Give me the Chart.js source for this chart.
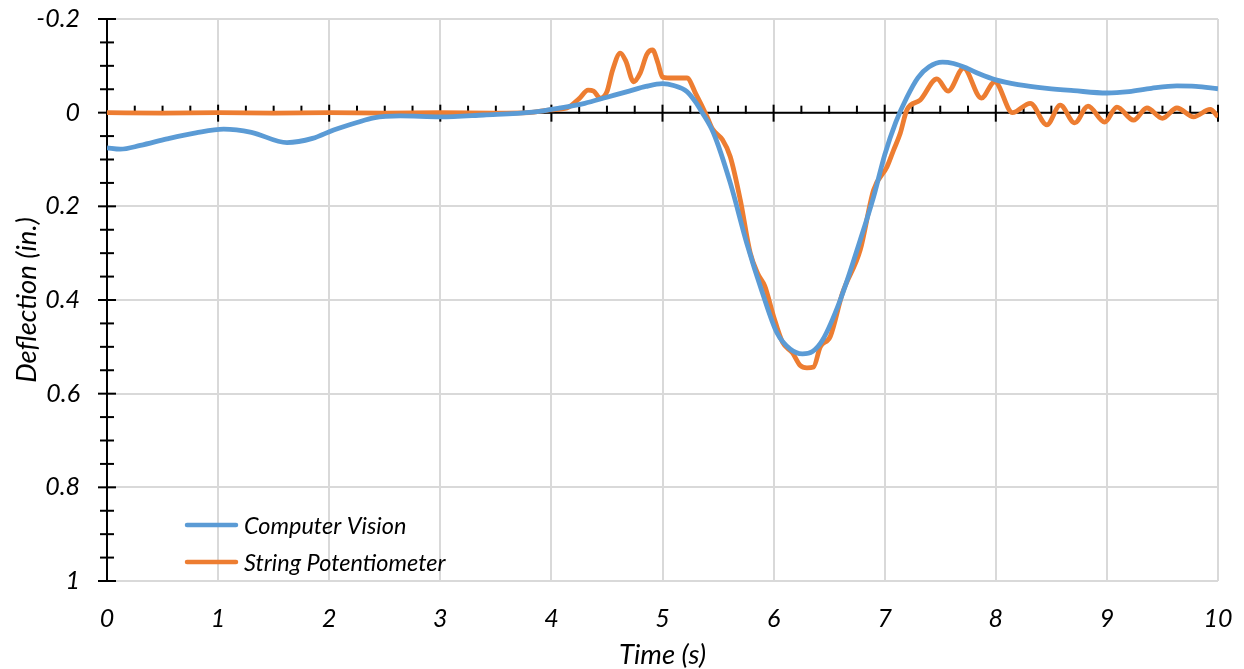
<!DOCTYPE html>
<html>
<head>
<meta charset="utf-8">
<script src="https://cdn.jsdelivr.net/npm/chart.js@4.4.1/dist/chart.umd.min.js"></script>
<style>
  html, body { margin: 0; padding: 0; background: #ffffff; }
  #wrap { width: 1244px; height: 669px; position: relative; }
</style>
</head>
<body>
<div id="wrap"><canvas id="c" width="1244" height="669"></canvas></div>
<script>
// ---- Data ----
const seriesNames = ["Computer Vision", "String Potentiometer"];

const cvTime = [0, 0.12, 0.3, 0.54, 0.8, 1.05, 1.3, 1.62, 1.85, 2.04, 2.25, 2.4, 2.64, 3.0, 3.39, 3.83, 4.08, 4.3, 4.5, 4.7, 4.85, 5.0, 5.1, 5.22, 5.3, 5.35, 5.46, 5.61, 5.76, 5.9, 6.03, 6.15, 6.26, 6.35, 6.44, 6.6, 6.78, 6.9, 7.0, 7.1, 7.2, 7.3, 7.4, 7.52, 7.62, 7.74, 7.85, 8.0, 8.2, 8.46, 8.7, 9.0, 9.2, 9.4, 9.63, 9.8, 10];
const cvDefl = [0.075, 0.078, 0.07, 0.056, 0.043, 0.035, 0.042, 0.064, 0.055, 0.037, 0.021, 0.011, 0.007, 0.009, 0.005, -0.001, -0.01, -0.02, -0.033, -0.046, -0.056, -0.062, -0.058, -0.045, -0.022, -0.003, 0.044, 0.15, 0.28, 0.385, 0.47, 0.505, 0.515, 0.51, 0.486, 0.40, 0.272, 0.18, 0.09, 0.02, -0.033, -0.075, -0.098, -0.108, -0.105, -0.095, -0.083, -0.07, -0.06, -0.052, -0.047, -0.042, -0.045, -0.052, -0.057, -0.056, -0.051];

const spTime = [0, 0.5, 1.0, 1.5, 2.0, 2.5, 3.0, 3.5, 3.8, 3.99, 4.14, 4.25, 4.33, 4.38, 4.44, 4.5, 4.55, 4.62, 4.67, 4.74, 4.8, 4.86, 4.91, 4.96, 5.0, 5.1, 5.22, 5.3, 5.4, 5.45, 5.54, 5.61, 5.7, 5.79, 5.86, 5.92, 6.0, 6.08, 6.17, 6.24, 6.3, 6.36, 6.42, 6.51, 6.62, 6.78, 6.9, 7.02, 7.08, 7.14, 7.2, 7.32, 7.47, 7.57, 7.71, 7.87, 7.99, 8.15, 8.31, 8.46, 8.58, 8.71, 8.83, 8.98, 9.09, 9.24, 9.36, 9.5, 9.63, 9.78, 9.93, 10];
const spDefl = [0, 0.001, 0, 0.001, 0, 0.001, 0, 0.001, 0, -0.006, -0.01, -0.03, -0.048, -0.046, -0.031, -0.045, -0.09, -0.127, -0.11, -0.066, -0.085, -0.125, -0.134, -0.105, -0.076, -0.074, -0.074, -0.04, 0.008, 0.035, 0.058, 0.094, 0.186, 0.30, 0.345, 0.37, 0.435, 0.49, 0.513, 0.54, 0.545, 0.543, 0.50, 0.478, 0.385, 0.293, 0.165, 0.116, 0.08, 0.044, -0.006, -0.027, -0.072, -0.046, -0.095, -0.031, -0.066, 0, -0.02, 0.026, -0.016, 0.022, -0.014, 0.02, -0.012, 0.016, -0.01, 0.012, -0.01, 0.009, -0.007, 0.009];

const xTickValues = [0, 1, 2, 3, 4, 5, 6, 7, 8, 9, 10];
const yTickValues = [-0.2, 0, 0.2, 0.4, 0.6, 0.8, 1];

const colors = ["#5B9BD5", "#ED7D31"];
const FONT = "Lato, 'Open Sans', sans-serif";

function toPoints(xs, ys) { return xs.map((x, i) => ({ x: x, y: ys[i] })); }

// Axis decoration through zero (Excel style), drawn from the scales
const axisPlugin = {
  id: 'excelAxes',
  beforeDatasetsDraw(chart) {
    const { ctx, chartArea, scales } = chart;
    const xs = scales.x, ys = scales.y;
    const y0 = ys.getPixelForValue(0);
    const x0 = xs.getPixelForValue(0);
    ctx.save();
    ctx.strokeStyle = '#000000';
    ctx.lineWidth = 2;
    ctx.lineCap = 'butt';
    ctx.beginPath();
    ctx.moveTo(x0, chartArea.top - 1);
    ctx.lineTo(x0, chartArea.bottom + 1);
    ctx.stroke();
    for (let k = 0; k <= 24; k++) {
      const v = -0.2 + k * 0.05;
      const py = ys.getPixelForValue(v);
      const major = (k % 4 === 0);
      const h = major ? 9 : 7;
      ctx.beginPath();
      ctx.moveTo(x0 - h, py);
      ctx.lineTo(x0 + h, py);
      ctx.stroke();
    }
    const xEnd = xs.getPixelForValue(10);
    ctx.beginPath();
    ctx.moveTo(x0, y0);
    ctx.lineTo(xEnd + 1, y0);
    ctx.stroke();
    for (let k = 1; k <= 40; k++) {
      const v = k * 0.25;
      const px = xs.getPixelForValue(v);
      ctx.beginPath();
      if (k % 4 === 0) {
        ctx.moveTo(px, y0 - 8);
        ctx.lineTo(px, y0 + 9);
      } else {
        ctx.moveTo(px, y0 - 7);
        ctx.lineTo(px, y0 + 1);
      }
      ctx.stroke();
    }
    ctx.restore();
  },
  afterDraw(chart) {
    const { ctx } = chart;
    const ds = chart.data.datasets;
    const rows = [525, 562];
    ctx.save();
    ds.forEach((d, i) => {
      ctx.strokeStyle = d.borderColor;
      ctx.lineWidth = 4.5;
      ctx.lineCap = 'round';
      ctx.beginPath();
      ctx.moveTo(187, rows[i]);
      ctx.lineTo(236, rows[i]);
      ctx.stroke();
      ctx.fillStyle = '#000000';
      ctx.font = "italic 23.5px " + FONT;
      ctx.textBaseline = 'middle';
      ctx.textAlign = 'left';
      ctx.fillText(d.label, 244, rows[i] + 1);
    });
    ctx.restore();
  }
};

new Chart(document.getElementById('c'), {
  type: 'line',
  data: {
    datasets: [
      {
        label: seriesNames[0],
        data: toPoints(cvTime, cvDefl),
        borderColor: colors[0],
        backgroundColor: colors[0],
        borderWidth: 4.8,
        pointRadius: 0,
        cubicInterpolationMode: 'monotone',
        fill: false
      },
      {
        label: seriesNames[1],
        data: toPoints(spTime, spDefl),
        borderColor: colors[1],
        backgroundColor: colors[1],
        borderWidth: 4.8,
        pointRadius: 0,
        cubicInterpolationMode: 'monotone',
        fill: false
      }
    ]
  },
  plugins: [axisPlugin],
  options: {
    responsive: false,
    animation: false,
    devicePixelRatio: 1,
    layout: { padding: { top: 19, right: 26, left: 0, bottom: 0 } },
    plugins: {
      legend: { display: false },
      tooltip: { enabled: false }
    },
    scales: {
      x: {
        type: 'linear',
        position: 'bottom',
        min: 0,
        max: 10,
        afterFit(scale) { scale.height = 88; scale.paddingLeft = 0; scale.paddingRight = 0; },
        afterBuildTicks(scale) { scale.ticks = xTickValues.map(v => ({ value: v })); },
        grid: { color: '#d9d9d9', lineWidth: 2, drawTicks: false },
        border: { display: false },
        ticks: {
          padding: 23,
          color: '#000000',
          font: { family: FONT, size: 25, style: 'italic' },
          callback: v => String(v)
        },
        title: {
          display: true,
          text: 'Time (s)',
          color: '#000000',
          font: { family: FONT, size: 27.5, style: 'italic', lineHeight: 1 },
          padding: { top: 0, bottom: 0 }
        }
      },
      y: {
        type: 'linear',
        reverse: true,
        min: -0.2,
        max: 1,
        afterFit(scale) { scale.width = 107; scale.paddingTop = 0; scale.paddingBottom = 0; },
        afterBuildTicks(scale) { scale.ticks = yTickValues.map(v => ({ value: v })); },
        grid: { color: '#d9d9d9', lineWidth: 2, drawTicks: false },
        border: { display: false },
        ticks: {
          padding: 27,
          color: '#000000',
          font: { family: FONT, size: 25, style: 'italic' },
          callback: v => String(Number(Number(v).toFixed(2)))
        },
        title: {
          display: true,
          text: 'Deflection (in.)',
          color: '#000000',
          font: { family: FONT, size: 27.5, style: 'italic', lineHeight: 1 },
          padding: { top: 13, bottom: 0 }
        }
      }
    }
  }
});
</script>
</body>
</html>
